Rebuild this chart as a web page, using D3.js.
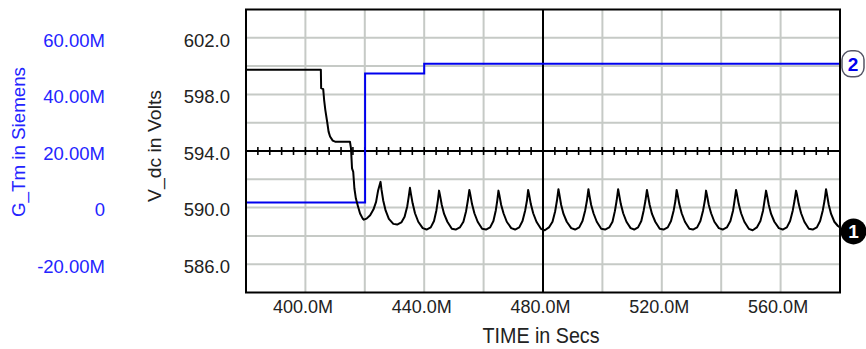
<!DOCTYPE html>
<html>
<head>
<meta charset="utf-8">
<script src="https://cdn.jsdelivr.net/npm/d3@7"></script>
<style>
  body { margin: 0; background: #fff; }
  svg { display: block; font-family: "Liberation Sans", Arial, sans-serif; }
</style>
</head>
<body>
<div id="app"></div>
<script>
// axis ticks
const timeTicks = [400, 440, 480, 520, 560];
const voltTicks = [586, 590, 594, 598, 602];
const condTicks = [-20, 0, 20, 40, 60];
const condTickLabels = ["-20.00M", "0", "20.00M", "40.00M", "60.00M"];

// trace 2: G_Tm (MSiemens), step after
const gTime = [380, 420.1, 440.0, 580];
const gValue = [1.8, 47.4, 50.8, 50.8];

// trace 1: V_dc (Volts), time in ms
const vTime = [
  380, 405.2, 405.3, 406.0, 406.3, 406.7, 407.4, 407.8, 408.3, 409.2, 410.0,
  415.0, 415.35, 415.7, 416.1, 416.5, 417.0, 417.6, 418.4, 419.3, 419.7,
  420.6, 421.8, 422.9, 423.8, 424.5, 425.3,
  425.6, 426.2, 427.0, 428.1, 429.6, 430.9, 432.3, 433.4, 434.3, 434.8, 435.2,
  435.5, 436.1, 436.9, 438.0, 439.5, 440.8, 442.2, 443.3, 444.1, 444.6, 445.0,
  445.3, 445.9, 446.7, 447.8, 449.3, 450.6, 452.0, 453.2, 454.1, 454.7, 455.2,
  455.5, 456.1, 456.9, 458.0, 459.5, 460.8, 462.2, 463.3, 464.1, 464.6, 465.0,
  465.3, 465.9, 466.7, 467.8, 469.3, 470.6, 472.0, 473.1, 474.0, 474.6, 475.0,
  475.3, 475.9, 476.7, 477.8, 479.3, 480.6, 482.0, 483.2, 484.1, 484.7, 485.2,
  485.5, 486.1, 486.9, 488.0, 489.5, 490.8, 492.2, 493.3, 494.2, 494.8, 495.3,
  495.6, 496.2, 497.0, 498.1, 499.6, 500.9, 502.3, 503.4, 504.2, 504.8, 505.3,
  505.6, 506.2, 507.0, 508.1, 509.5, 510.7, 512.0, 513.1, 513.9, 514.5, 515.0,
  515.3, 515.9, 516.7, 517.8, 519.3, 520.6, 522.0, 523.1, 524.0, 524.6, 525.0,
  525.3, 525.9, 526.7, 527.8, 529.3, 530.5, 531.9, 533.0, 533.9, 534.5, 534.9,
  535.2, 535.8, 536.6, 537.7, 539.2, 540.5, 541.9, 543.1, 544.0, 544.5, 545.0,
  545.3, 545.9, 546.7, 547.8, 549.3, 550.6, 552.0, 553.2, 554.1, 554.6, 555.1,
  555.4, 556.0, 556.8, 557.9, 559.4, 560.7, 562.1, 563.2, 564.1, 564.7, 565.2,
  565.5, 566.1, 566.9, 568.0, 569.5, 570.8, 572.2, 573.3, 574.2, 574.8, 575.3,
  575.6, 576.2, 577.0, 578.1, 579.3, 580
];
const vValue = [
  599.74, 599.74, 598.44, 598.37, 597.62, 596.91, 595.96, 595.37, 595.02, 594.73, 594.66,
  594.66, 594.19, 592.77, 592.53, 591.35, 590.64, 590.17, 589.58, 589.22, 589.15,
  589.22, 589.46, 589.86, 590.4, 591.23, 591.82,
  591.3, 590.5, 589.8, 589.2, 588.85, 588.8, 588.95, 589.35, 590.1, 590.8, 591.4,
  591.0, 590.3, 589.6, 589.0, 588.55, 588.45, 588.6, 589.05, 589.8, 590.5, 591.2,
  590.9, 590.2, 589.55, 589.0, 588.5, 588.45, 588.6, 589.0, 589.75, 590.5, 591.25,
  590.95, 590.25, 589.6, 589.0, 588.5, 588.45, 588.6, 589.05, 589.8, 590.5, 591.2,
  590.9, 590.2, 589.6, 589.0, 588.55, 588.45, 588.6, 589.05, 589.8, 590.5, 591.25,
  590.95, 590.25, 589.6, 589.0, 588.5, 588.4, 588.6, 589.0, 589.75, 590.5, 591.3,
  590.95, 590.2, 589.55, 589.0, 588.55, 588.45, 588.6, 589.05, 589.8, 590.5, 591.3,
  590.9, 590.2, 589.6, 589.0, 588.5, 588.45, 588.6, 589.0, 589.75, 590.5, 591.3,
  590.95, 590.25, 589.6, 589.0, 588.55, 588.45, 588.6, 589.05, 589.8, 590.5, 591.25,
  590.9, 590.2, 589.55, 589.0, 588.5, 588.45, 588.6, 589.05, 589.8, 590.5, 591.25,
  590.95, 590.25, 589.6, 589.0, 588.5, 588.45, 588.6, 589.05, 589.8, 590.5, 591.2,
  590.9, 590.2, 589.6, 589.0, 588.55, 588.45, 588.6, 589.05, 589.8, 590.5, 591.25,
  590.95, 590.25, 589.6, 589.0, 588.5, 588.4, 588.6, 589.05, 589.8, 590.5, 591.2,
  590.9, 590.2, 589.55, 589.0, 588.55, 588.45, 588.6, 589.05, 589.8, 590.5, 591.2,
  590.95, 590.25, 589.6, 589.0, 588.5, 588.45, 588.6, 589.05, 589.8, 590.5, 591.3,
  590.95, 590.2, 589.55, 589.0, 588.7, 588.6
];

const width = 866;
const height = 349;
const blue = "#0000ee";
const blueText = "#2424ff";

const x = d3.scaleLinear().domain([380, 580]).range([246, 840]);
const yV = d3.scaleLinear().domain([584, 604]).range([292.5, 9.5]);
const yG = d3.scaleLinear().domain([-30, 70]).range([292.5, 9.5]);

const svg = d3.select("#app").append("svg")
  .attr("width", width)
  .attr("height", height);

// grid
svg.append("g")
  .selectAll("line")
  .data(d3.range(400, 580, 20).filter(d => d !== 480))
  .join("line")
  .attr("x1", d => x(d)).attr("x2", d => x(d))
  .attr("y1", yV(604)).attr("y2", yV(584))
  .attr("stroke", "#c6cac6").attr("stroke-width", 2);

svg.append("g")
  .selectAll("line")
  .data(d3.range(586, 604, 2).filter(d => d !== 594))
  .join("line")
  .attr("x1", x(380)).attr("x2", x(580))
  .attr("y1", d => yV(d)).attr("y2", d => yV(d))
  .attr("stroke", "#c6cac6").attr("stroke-width", 2);

// black crosshair with minor ticks
svg.append("line")
  .attr("x1", x(480)).attr("x2", x(480))
  .attr("y1", yV(604)).attr("y2", yV(584))
  .attr("stroke", "#000").attr("stroke-width", 2);

svg.append("line")
  .attr("x1", x(380)).attr("x2", x(580))
  .attr("y1", yV(594)).attr("y2", yV(594))
  .attr("stroke", "#000").attr("stroke-width", 2);

svg.append("g")
  .selectAll("line")
  .data(d3.range(384, 580, 4))
  .join("line")
  .attr("x1", d => x(d)).attr("x2", d => x(d))
  .attr("y1", yV(594) - 4).attr("y2", yV(594) + 4)
  .attr("stroke", "#000").attr("stroke-width", 1.6);

// traces
const gLine = d3.line()
  .x(d => x(d[0]))
  .y(d => yG(d[1]))
  .curve(d3.curveStepAfter);

svg.append("path")
  .datum(gTime.map((t, i) => [t, gValue[i]]))
  .attr("d", gLine)
  .attr("fill", "none")
  .attr("stroke", blue)
  .attr("stroke-width", 2);

const vLine = d3.line()
  .x(d => x(d[0]))
  .y(d => yV(d[1]));

svg.append("path")
  .datum(vTime.map((t, i) => [t, vValue[i]]))
  .attr("d", vLine)
  .attr("fill", "none")
  .attr("stroke", "#000")
  .attr("stroke-width", 2)
  .attr("stroke-linejoin", "round");

// frame
svg.append("rect")
  .attr("x", x(380)).attr("y", yV(604))
  .attr("width", x(580) - x(380))
  .attr("height", yV(584) - yV(604))
  .attr("fill", "none")
  .attr("stroke", "#000")
  .attr("stroke-width", 2);

// axes
const vAxis = svg.append("g")
  .attr("transform", `translate(${x(380)},0)`)
  .call(d3.axisLeft(yV).tickValues(voltTicks).tickFormat(d3.format(".1f")).tickSize(0).tickPadding(16));
vAxis.select(".domain").remove();
vAxis.selectAll("text")
  .attr("dy", "0.45em")
  .attr("font-size", 18.5)
  .attr("fill", "#222");

const gAxis = svg.append("g")
  .attr("transform", "translate(105,0)")
  .call(d3.axisLeft(yG).tickValues(condTicks).tickFormat((d, i) => condTickLabels[i]).tickSize(0).tickPadding(0));
gAxis.select(".domain").remove();
gAxis.selectAll("text")
  .attr("dy", "0.45em")
  .attr("font-size", 18.5)
  .attr("fill", blueText);

const tAxis = svg.append("g")
  .attr("transform", `translate(0,${yV(584)})`)
  .call(d3.axisBottom(x).tickValues(timeTicks).tickFormat(d => d3.format(".1f")(d) + "M").tickSize(0).tickPadding(7.5));
tAxis.select(".domain").remove();
tAxis.selectAll("text")
  .attr("dx", -3)
  .attr("font-size", 18)
  .attr("fill", "#222");

// titles
svg.append("text")
  .attr("x", 541).attr("y", 343)
  .attr("text-anchor", "middle")
  .attr("font-size", 22)
  .attr("fill", "#222")
  .attr("textLength", 117)
  .attr("lengthAdjust", "spacingAndGlyphs")
  .text("TIME in Secs");

svg.append("text")
  .attr("transform", "translate(25,142) rotate(-90)")
  .attr("text-anchor", "middle")
  .attr("font-size", 18)
  .attr("fill", blueText)
  .attr("textLength", 150)
  .attr("lengthAdjust", "spacingAndGlyphs")
  .text("G_Tm in Siemens");

svg.append("text")
  .attr("transform", "translate(161,146) rotate(-90)")
  .attr("text-anchor", "middle")
  .attr("font-size", 18)
  .attr("fill", "#222")
  .attr("textLength", 112)
  .attr("lengthAdjust", "spacingAndGlyphs")
  .text("V_dc in Volts");

// trace markers
const m2 = svg.append("g")
  .attr("transform", `translate(853,${yG(gValue[gValue.length - 1])})`);
m2.append("rect")
  .attr("x", -11).attr("y", -13)
  .attr("width", 22).attr("height", 26)
  .attr("rx", 9)
  .attr("fill", "#fff")
  .attr("stroke", "#556")
  .attr("stroke-width", 1.5);
m2.append("text")
  .attr("text-anchor", "middle")
  .attr("dy", "0.36em")
  .attr("font-size", 19)
  .attr("font-weight", "bold")
  .attr("fill", blue)
  .text("2");

const m1 = svg.append("g")
  .attr("transform", `translate(853.5,${yV(vValue[vValue.length - 1]) + 4})`);
m1.append("circle")
  .attr("r", 13)
  .attr("fill", "#000");
m1.append("text")
  .attr("text-anchor", "middle")
  .attr("dy", "0.36em")
  .attr("font-size", 19)
  .attr("font-weight", "bold")
  .attr("fill", "#fff")
  .text("1");
</script>
</body>
</html>
